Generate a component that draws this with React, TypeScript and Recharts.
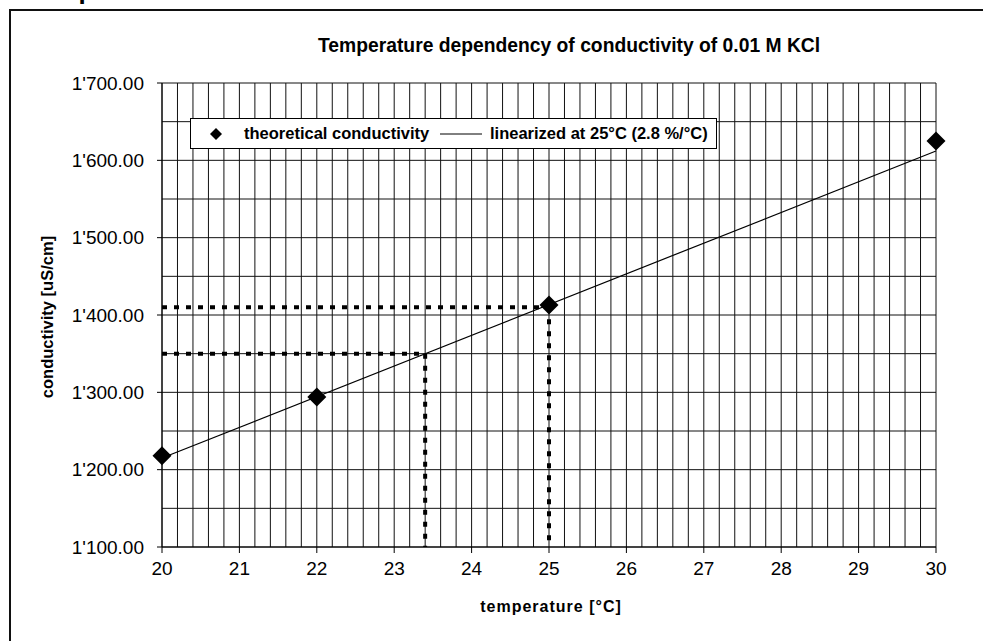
import {
  ComposedChart,
  Line,
  Scatter,
  XAxis,
  YAxis,
  ReferenceLine,
} from "recharts";

// measured points (theoretical conductivity of 0.01 M KCl)
const temps = [20, 22, 25, 30];
const conductivity = [1218, 1294, 1413, 1625];

// linear approximation at 25°C, 2.8 %/°C (end points)
const linTemps = [20, 30];
const linValues = [1215, 1612];

// dotted read-off guides
const guideTemps = [25, 23.4];
const guideValues = [1410, 1350];

const xTicks = [20, 21, 22, 23, 24, 25, 26, 27, 28, 29, 30];
const yTicks = [1100, 1200, 1300, 1400, 1500, 1600, 1700];

const scatterData = temps.map((t, i) => ({ t, k: conductivity[i] }));
const lineData = linTemps.map((t, i) => ({ t, lin: linValues[i] }));

// minor grid: every 0.2 °C and every 50 uS/cm
const xGrid = Array.from({ length: 51 }, (_, i) => +(20 + i * 0.2).toFixed(1));
const yGrid = Array.from({ length: 13 }, (_, i) => 1100 + i * 50);

const FONT = '"Liberation Sans", Arial, sans-serif';

const fmt = (v: number) =>
  `${Math.floor(v / 1000)}'${String(v % 1000).padStart(3, "0")}.00`;

const Diamond = (props: any) => {
  const { cx, cy } = props;
  const r = 9.5;
  return (
    <polygon
      points={`${cx},${cy - r} ${cx + r},${cy} ${cx},${cy + r} ${cx - r},${cy}`}
      fill="#000"
    />
  );
};

export default function App() {
  return (
    <div
      style={{
        position: "fixed",
        left: 0,
        top: 0,
        width: 983,
        height: 641,
        overflow: "hidden",
        background: "#fff",
        fontFamily: FONT,
      }}
    >
      <div
        style={{
          position: "absolute",
          left: 9,
          top: -25,
          fontSize: 26,
          fontWeight: "bold",
          lineHeight: "30px",
        }}
      >
        Example:
      </div>
      <div
        style={{
          position: "absolute",
          left: 9,
          top: 9,
          width: 1100,
          height: 800,
          border: "2px solid #111",
        }}
      />
      <div
        style={{
          position: "absolute",
          left: 318,
          top: 35,
          fontSize: 19.3,
          fontWeight: "bold",
          whiteSpace: "nowrap",
        }}
      >
        Temperature dependency of conductivity of 0.01 M KCl
      </div>

      <ComposedChart
        width={983}
        height={641}
        margin={{ top: 83, right: 47, bottom: 64, left: 62 }}
        style={{ position: "absolute", left: 0, top: 0 }}
      >
        <XAxis
          type="number"
          dataKey="t"
          domain={[20, 30]}
          ticks={xTicks}
          stroke="#000"
          tickSize={6}
          tickMargin={9}
          tick={{ fontSize: 19, fill: "#000", fontFamily: FONT }}
        />
        <YAxis
          type="number"
          domain={[1100, 1700]}
          ticks={yTicks}
          width={100}
          stroke="#000"
          tickSize={5}
          tickMargin={13}
          tickFormatter={fmt}
          tick={{ fontSize: 19, fill: "#000", fontFamily: FONT }}
        />
        {xGrid.map((g) => (
          <ReferenceLine key={`gx${g}`} x={g} stroke="#111" strokeWidth={1} />
        ))}
        {yGrid.map((g) => (
          <ReferenceLine key={`gy${g}`} y={g} stroke="#111" strokeWidth={1} />
        ))}
        {guideTemps.map((g, i) => (
          <ReferenceLine
            key={`h${i}`}
            segment={[
              { x: 20, y: guideValues[i] },
              { x: g, y: guideValues[i] },
            ]}
            stroke="#000"
            strokeWidth={4}
            strokeDasharray="5 7"
          />
        ))}
        {guideTemps.map((g, i) => (
          <ReferenceLine
            key={`v${i}`}
            segment={[
              { x: g, y: guideValues[i] },
              { x: g, y: 1100 },
            ]}
            stroke="#000"
            strokeWidth={4}
            strokeDasharray="5 7"
          />
        ))}
        <Line
          data={lineData}
          dataKey="lin"
          type="linear"
          stroke="#000"
          strokeWidth={1.2}
          dot={false}
          isAnimationActive={false}
        />
        <Scatter
          data={scatterData}
          dataKey="k"
          shape={<Diamond />}
          isAnimationActive={false}
        />
      </ComposedChart>

      {/* legend */}
      <div
        style={{
          position: "absolute",
          left: 190,
          top: 118,
          width: 527,
          height: 31,
          border: "1px solid #000",
          background: "#fff",
          boxSizing: "border-box",
          fontSize: 16.5,
          fontWeight: "bold",
          whiteSpace: "nowrap",
        }}
      >
        <svg
          width={14}
          height={14}
          style={{ position: "absolute", left: 18, top: 7.5 }}
        >
          <polygon points="7,1 13,7 7,13 1,7" fill="#000" />
        </svg>
        <span style={{ position: "absolute", left: 53, top: 5 }}>
          theoretical conductivity
        </span>
        <svg
          width={42}
          height={10}
          style={{ position: "absolute", left: 249, top: 9.5 }}
        >
          <line x1={0} y1={5} x2={42} y2={5} stroke="#000" strokeWidth={1} />
        </svg>
        <span style={{ position: "absolute", left: 299, top: 5 }}>
          linearized at 25°C (2.8 %/°C)
        </span>
      </div>

      <div
        style={{
          position: "absolute",
          left: 47,
          top: 317,
          transform: "translate(-50%, -50%) rotate(-90deg)",
          fontSize: 16.5,
          fontWeight: "bold",
          whiteSpace: "nowrap",
        }}
      >
        conductivity [uS/cm]
      </div>
      <div
        style={{
          position: "absolute",
          left: 551,
          top: 607,
          transform: "translate(-50%, -50%)",
          fontSize: 16,
          fontWeight: "bold",
          letterSpacing: 1,
          whiteSpace: "nowrap",
        }}
      >
        temperature [°C]
      </div>
    </div>
  );
}
